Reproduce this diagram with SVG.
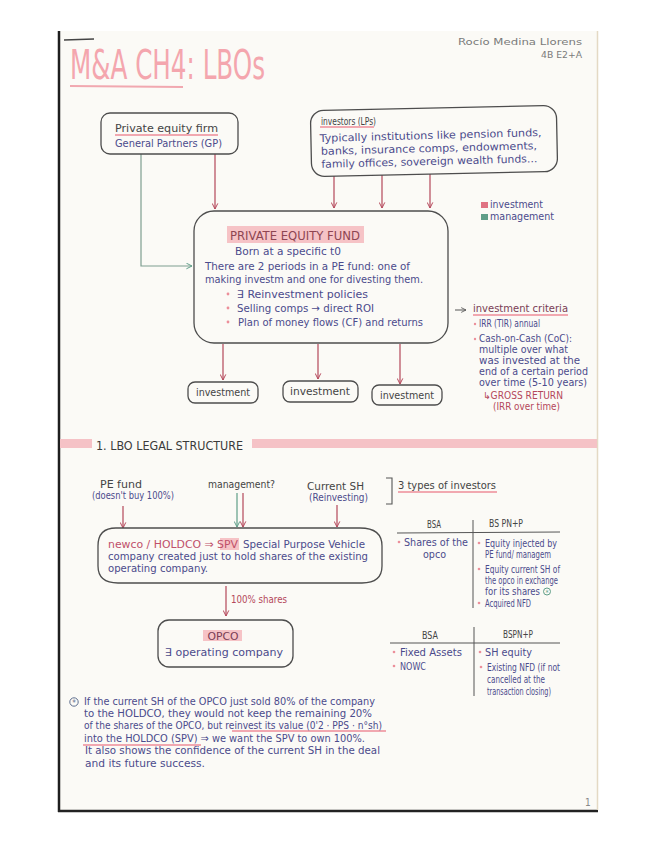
<svg xmlns="http://www.w3.org/2000/svg" width="655" height="848" viewBox="0 0 655 848">
<defs>
<marker id="ar" viewBox="0 0 10 10" refX="9" refY="5" markerWidth="7" markerHeight="7" markerUnits="userSpaceOnUse" orient="auto">
<path d="M1,1 L9,5 L1,9" fill="none" stroke="#b4475a" stroke-width="1.4"/>
</marker>
<marker id="ag" viewBox="0 0 10 10" refX="9" refY="5" markerWidth="7" markerHeight="7" markerUnits="userSpaceOnUse" orient="auto">
<path d="M1,1 L9,5 L1,9" fill="none" stroke="#5f9e88" stroke-width="1.4"/>
</marker>
<marker id="ak" viewBox="0 0 10 10" refX="9" refY="5" markerWidth="6" markerHeight="6" markerUnits="userSpaceOnUse" orient="auto">
<path d="M1,1 L9,5 L1,9" fill="none" stroke="#555" stroke-width="1.4"/>
</marker>
</defs>
<style>
text{font-family:"Liberation Sans Narrow","DejaVu Sans Condensed","Liberation Sans",sans-serif;}
.box{fill:none;stroke:#4d4d4d;stroke-width:1.3;}
.b{fill:#4b4b8c;font-size:10.5px;}
.d{fill:#444;font-size:10.5px;}
.r{fill:#b4475a;font-size:10px;}
.hl{fill:#f6c3c6;}
.ul{stroke:#f1a8b0;stroke-width:2;fill:none;}
.cr{stroke:#b4475a;stroke-width:1.2;fill:none;marker-end:url(#ar);}
.cg{stroke:#5f9e88;stroke-width:1.2;fill:none;marker-end:url(#ag);}
.dot{fill:#ec8f9a;}
.tl{stroke:#555;stroke-width:1;fill:none;}
</style>
<rect x="0" y="0" width="655" height="848" fill="#ffffff"/>
<rect x="59" y="31" width="539" height="781" fill="#fbfaf6"/>
<line x1="59" y1="31" x2="59" y2="812" stroke="#1e1e1e" stroke-width="2.5"/>
<line x1="58" y1="811" x2="598" y2="811" stroke="#222" stroke-width="2.5"/>
<line x1="597.5" y1="31" x2="597.5" y2="810" stroke="#e4d9c4" stroke-width="1.5"/>
<line x1="64" y1="40" x2="94" y2="39" stroke="#444" stroke-width="1.5"/>

<g id="header">
<text x="70" y="79" font-size="40" textLength="195" lengthAdjust="spacingAndGlyphs" fill="#f4a6ae">M&amp;A CH4: LBOs</text>
<path class="ul" d="M70,86 L183,87" stroke-width="2.5"/>
<text x="458" y="45" font-size="9" fill="#7a7a7a" textLength="124" lengthAdjust="spacingAndGlyphs">Rocío Medina Llorens</text>
<text x="541" y="58" font-size="9" fill="#7a7a7a" textLength="41" lengthAdjust="spacingAndGlyphs">4B E2+A</text>
</g>

<g id="connectors">
<path d="M141,154 V266 H192" stroke="#7e9e90" stroke-width="1.2" fill="none" marker-end="url(#ag)"/>
<path class="cr" d="M215,154 V209"/>
<path class="cr" d="M334,176 V208"/>
<path class="cr" d="M382,175 V208"/>
<path class="cr" d="M430,174 V208"/>
<path d="M455,310 H466" stroke="#555" stroke-width="1" fill="none" marker-end="url(#ak)"/>
<path class="cr" d="M223,344 V380"/>
<path class="cr" d="M318,344 V379"/>
<path class="cr" d="M400,344 V384"/>
<path class="cr" d="M123,506 V528"/>
<path class="cg" d="M237,493 V527"/>
<path class="cr" d="M243,493 V527"/>
<path class="cr" d="M337,505 V527"/>
<path class="cr" d="M226,586 V616"/>
</g>

<g id="pe-firm">
<rect class="box" x="101" y="113" width="137" height="41" rx="9"/>
<text class="d" x="115" y="132" textLength="103" lengthAdjust="spacingAndGlyphs">Private equity firm</text>
<path class="ul" d="M115,135 L218,135" stroke-width="1.5"/>
<text class="b" x="115" y="147" textLength="107" lengthAdjust="spacingAndGlyphs">General Partners (GP)</text>
</g>

<g id="investors">
<rect class="box" x="311" y="108" width="246" height="66" rx="13" transform="rotate(-1.2 434 141)"/>
<text class="d" x="321" y="125" font-size="10" textLength="55" lengthAdjust="spacingAndGlyphs">investors (LPs)</text>
<path class="ul" d="M320,127 L374,127" stroke-width="1.5"/>
<g transform="rotate(-1.5 430 150)">
<text class="b" x="320" y="139" textLength="222" lengthAdjust="spacingAndGlyphs">Typically institutions like pension funds,</text>
<text class="b" x="321" y="152" textLength="216" lengthAdjust="spacingAndGlyphs">banks, insurance comps, endowments,</text>
<text class="b" x="321" y="165" textLength="216" lengthAdjust="spacingAndGlyphs">family offices, sovereign wealth funds...</text>
</g>
</g>

<g id="legend">
<rect x="481" y="202" width="7" height="6" fill="#e07383"/>
<text class="b" x="490" y="208" font-size="9" textLength="53" lengthAdjust="spacingAndGlyphs">investment</text>
<rect x="481" y="214" width="7" height="6" fill="#5f9e88"/>
<text class="b" x="490" y="220" font-size="9" textLength="64" lengthAdjust="spacingAndGlyphs">management</text>
</g>

<g id="pe-fund">
<rect class="box" x="194" y="211" width="254" height="132" rx="20"/>
<rect class="hl" x="227" y="226" width="137" height="17"/>
<text x="230" y="240" font-size="12" fill="#8e4552" textLength="130" lengthAdjust="spacingAndGlyphs">PRIVATE EQUITY FUND</text>
<text class="b" x="235" y="255" textLength="106" lengthAdjust="spacingAndGlyphs">Born at a specific t0</text>
<text class="b" x="205" y="270" textLength="205" lengthAdjust="spacingAndGlyphs">There are 2 periods in a PE fund: one of</text>
<text class="b" x="205" y="283" textLength="218" lengthAdjust="spacingAndGlyphs">making investm and one for divesting them.</text>
<circle class="dot" cx="228" cy="294" r="1.4"/>
<text class="b" x="237" y="298" textLength="131" lengthAdjust="spacingAndGlyphs">∃ Reinvestment policies</text>
<circle class="dot" cx="228" cy="308" r="1.4"/>
<text class="b" x="237" y="312" textLength="137" lengthAdjust="spacingAndGlyphs">Selling comps → direct ROI</text>
<circle class="dot" cx="228" cy="322" r="1.4"/>
<text class="b" x="238" y="326" textLength="185" lengthAdjust="spacingAndGlyphs">Plan of money flows (CF) and returns</text>
</g>

<g id="criteria">
<text x="473" y="312" font-size="10.5" fill="#7a3e55" textLength="95" lengthAdjust="spacingAndGlyphs">investment criteria</text>
<path class="ul" d="M473,315 L568,315" stroke-width="1.5"/>
<circle class="dot" cx="475" cy="324" r="1.2"/>
<text class="b" x="479" y="327" font-size="9.5" textLength="61" lengthAdjust="spacingAndGlyphs">IRR (TIR) annual</text>
<circle class="dot" cx="475" cy="339" r="1.2"/>
<text class="b" x="479" y="342" font-size="9.5" textLength="93" lengthAdjust="spacingAndGlyphs">Cash-on-Cash (CoC):</text>
<text class="b" x="479" y="353" font-size="9.5" textLength="89" lengthAdjust="spacingAndGlyphs">multiple over what</text>
<text class="b" x="479" y="364" font-size="9.5" textLength="101" lengthAdjust="spacingAndGlyphs">was invested at the</text>
<text class="b" x="479" y="375" font-size="9.5" textLength="109" lengthAdjust="spacingAndGlyphs">end of a certain period</text>
<text class="b" x="479" y="386" font-size="9.5" textLength="108" lengthAdjust="spacingAndGlyphs">over time (5-10 years)</text>
<text class="r" x="483" y="399" font-size="9.5" textLength="80" lengthAdjust="spacingAndGlyphs">↳GROSS RETURN</text>
<text class="r" x="493" y="410" font-size="9.5" textLength="67" lengthAdjust="spacingAndGlyphs">(IRR over time)</text>
</g>

<g id="investment-1">
<rect class="box" x="188" y="382" width="70" height="21" rx="7"/>
<text class="d" x="223" y="396" font-size="10" text-anchor="middle" textLength="54" lengthAdjust="spacingAndGlyphs">investment</text>
</g>
<g id="investment-2">
<rect class="box" x="283" y="381" width="75" height="21" rx="7"/>
<text class="d" x="320" y="395" font-size="10" text-anchor="middle" textLength="60" lengthAdjust="spacingAndGlyphs">investment</text>
</g>
<g id="investment-3">
<rect class="box" x="372" y="385" width="70" height="20" rx="7"/>
<text class="d" x="407" y="399" font-size="10" text-anchor="middle" textLength="54" lengthAdjust="spacingAndGlyphs">investment</text>
</g>

<g id="section-1">
<rect x="60" y="439" width="32" height="9" fill="#f5c2c6"/>
<text x="96" y="450" font-size="13" fill="#3a3a3a" textLength="147" lengthAdjust="spacingAndGlyphs">1. LBO LEGAL STRUCTURE</text>
<rect x="252" y="439" width="345" height="9" fill="#f5c2c6"/>
</g>

<g id="pe-fund-investor">
<text class="d" x="100" y="488" font-size="11" textLength="42" lengthAdjust="spacingAndGlyphs">PE fund</text>
<text class="b" x="92" y="499" font-size="9" textLength="82" lengthAdjust="spacingAndGlyphs">(doesn't buy 100%)</text>
</g>
<g id="management">
<text class="d" x="208" y="488" font-size="10" textLength="67" lengthAdjust="spacingAndGlyphs">management?</text>
</g>
<g id="current-sh">
<text class="d" x="307" y="490" font-size="10" textLength="57" lengthAdjust="spacingAndGlyphs">Current SH</text>
<text class="b" x="309" y="501" font-size="9" textLength="59" lengthAdjust="spacingAndGlyphs">(Reinvesting)</text>
</g>
<g id="types-note">
<path d="M386,478 H392 V504 H386" fill="none" stroke="#555" stroke-width="1.1"/>
<text class="d" x="398" y="489" font-size="10.5" textLength="98" lengthAdjust="spacingAndGlyphs">3 types of investors</text>
<path class="ul" d="M398,492 L497,492" stroke-width="1.5"/>
</g>

<g id="newco">
<path class="box" d="M116,528 H360 Q382,528 382,546 V566 Q382,583 362,583 H118 Q98,583 98,566 V546 Q98,528 116,528 Z"/>
<rect class="hl" x="220" y="538" width="19" height="12"/>
<text x="108" y="548" font-size="10.5" fill="#c0506a" textLength="130" lengthAdjust="spacingAndGlyphs">newco / HOLDCO ⇒ SPV</text>
<text class="b" x="243" y="548" textLength="122" lengthAdjust="spacingAndGlyphs">Special Purpose Vehicle</text>
<text class="b" x="108" y="560" textLength="260" lengthAdjust="spacingAndGlyphs">company created just to hold shares of the existing</text>
<text class="b" x="108" y="572" textLength="100" lengthAdjust="spacingAndGlyphs">operating company.</text>
</g>

<g id="shares-label">
<text class="r" x="231" y="603" font-size="9" textLength="56" lengthAdjust="spacingAndGlyphs">100% shares</text>
</g>

<g id="opco">
<rect class="box" x="158" y="620" width="135" height="47" rx="11"/>
<rect class="hl" x="203" y="630" width="39" height="11"/>
<text x="223" y="640" font-size="10.5" fill="#7a3e55" text-anchor="middle" textLength="31" lengthAdjust="spacingAndGlyphs">OPCO</text>
<text class="b" x="165" y="656" textLength="118" lengthAdjust="spacingAndGlyphs">∃ operating company</text>
</g>

<g id="table-1">
<text class="d" x="427" y="528" font-size="9.5" textLength="14" lengthAdjust="spacingAndGlyphs">BSA</text>
<text class="d" x="489" y="527" font-size="9.5" textLength="34" lengthAdjust="spacingAndGlyphs">BS PN+P</text>
<line class="tl" x1="397" y1="533" x2="560" y2="532"/>
<line class="tl" x1="473" y1="520" x2="473" y2="608"/>
<circle class="dot" cx="399" cy="542" r="1.3"/>
<text class="b" x="404" y="546" font-size="10" textLength="64" lengthAdjust="spacingAndGlyphs">Shares of the</text>
<text class="b" x="423" y="558" font-size="10" textLength="23" lengthAdjust="spacingAndGlyphs">opco</text>
<circle class="dot" cx="479" cy="543" r="1.3"/>
<text class="b" x="485" y="547" font-size="10" textLength="72" lengthAdjust="spacingAndGlyphs">Equity injected by</text>
<text class="b" x="485" y="558" font-size="10" textLength="66" lengthAdjust="spacingAndGlyphs">PE fund/ managem</text>
<circle class="dot" cx="479" cy="569" r="1.3"/>
<text class="b" x="485" y="573" font-size="10" textLength="75" lengthAdjust="spacingAndGlyphs">Equity current SH of</text>
<text class="b" x="485" y="584" font-size="10" textLength="73" lengthAdjust="spacingAndGlyphs">the opco in exchange</text>
<text class="b" x="485" y="595" font-size="10" textLength="55" lengthAdjust="spacingAndGlyphs">for its shares</text>
<circle cx="547" cy="591.5" r="3.5" fill="none" stroke="#5f9e88" stroke-width="1"/>
<text x="547" y="594.5" font-size="7" fill="#5f9e88" text-anchor="middle">*</text>
<circle class="dot" cx="479" cy="603" r="1.3"/>
<text class="b" x="485" y="607" font-size="10" textLength="46" lengthAdjust="spacingAndGlyphs">Acquired NFD</text>
</g>

<g id="table-2">
<text class="d" x="422" y="639" font-size="9.5" textLength="16" lengthAdjust="spacingAndGlyphs">BSA</text>
<text class="d" x="503" y="638" font-size="9.5" textLength="30" lengthAdjust="spacingAndGlyphs">BSPN+P</text>
<line class="tl" x1="390" y1="643" x2="560" y2="643"/>
<line class="tl" x1="474" y1="627" x2="474" y2="696"/>
<circle class="dot" cx="394" cy="652" r="1.3"/>
<text class="b" x="400" y="656" font-size="10" textLength="62" lengthAdjust="spacingAndGlyphs">Fixed Assets</text>
<circle class="dot" cx="394" cy="666" r="1.3"/>
<text class="b" x="400" y="670" font-size="10" textLength="26" lengthAdjust="spacingAndGlyphs">NOWC</text>
<circle class="dot" cx="480" cy="652" r="1.3"/>
<text class="b" x="485" y="656" font-size="10" textLength="47" lengthAdjust="spacingAndGlyphs">SH equity</text>
<circle class="dot" cx="481" cy="667" r="1.3"/>
<text class="b" x="487" y="671" font-size="10" textLength="73" lengthAdjust="spacingAndGlyphs">Existing NFD (if not</text>
<text class="b" x="487" y="683" font-size="10" textLength="58" lengthAdjust="spacingAndGlyphs">cancelled at the</text>
<text class="b" x="487" y="695" font-size="10" textLength="64" lengthAdjust="spacingAndGlyphs">transaction closing)</text>
</g>

<g id="note">
<circle cx="74" cy="702" r="4.2" fill="none" stroke="#5f6f8f" stroke-width="1"/>
<text x="74" y="705.5" font-size="8" fill="#5f6f8f" text-anchor="middle">*</text>
<path class="ul" d="M232,731 L386,731" stroke-width="1.8"/>
<path class="ul" d="M83,745 L201,745" stroke-width="1.8"/>
<text class="b" x="84" y="705" textLength="291" lengthAdjust="spacingAndGlyphs">If the current SH of the OPCO just sold 80% of the company</text>
<text class="b" x="84" y="717" textLength="288" lengthAdjust="spacingAndGlyphs">to the HOLDCO, they would not keep the remaining 20%</text>
<text class="b" x="84" y="729" textLength="298" lengthAdjust="spacingAndGlyphs">of the shares of the OPCO, but reinvest its value (0'2 · PPS · n°sh)</text>
<text class="b" x="84" y="742" textLength="281" lengthAdjust="spacingAndGlyphs">into the HOLDCO (SPV) ⇒ we want the SPV to own 100%.</text>
<text class="b" x="85" y="754" textLength="295" lengthAdjust="spacingAndGlyphs">It also shows the confidence of the current SH in the deal</text>
<text class="b" x="85" y="767" textLength="120" lengthAdjust="spacingAndGlyphs">and its future success.</text>
</g>

<text x="585" y="806" font-size="10" fill="#888">1</text>
</svg>
